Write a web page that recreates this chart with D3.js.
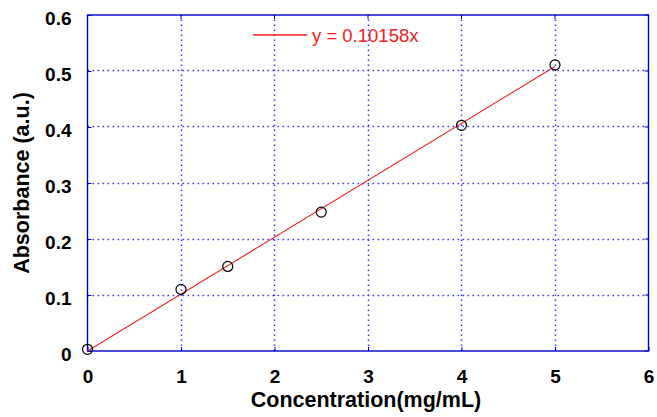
<!DOCTYPE html>
<html><head><meta charset="utf-8">
<script src="https://d3js.org/d3.v7.min.js"></script>
<style>body{margin:0;background:#fff}svg{display:block}</style>
</head><body>
<script>
const concentration = [0, 1, 1.5, 2.5, 4, 5];
const absorbance = [0.003, 0.110, 0.151, 0.248, 0.403, 0.511];
const slope = 0.10158;
const fitRange = [0, 5];
const xTicks = [0, 1, 2, 3, 4, 5, 6];
const yTicks = [0, 0.1, 0.2, 0.3, 0.4, 0.5, 0.6];
const legendLabel = "y = 0.10158x";

const W = 657, H = 417;
const m = {left: 87.5, right: 657 - 648.5, top: 15, bottom: 417 - 351};
const svg = d3.select("body").append("svg").attr("width", W).attr("height", H);
const x = d3.scaleLinear().domain([0, 6]).range([m.left, W - m.right]);
const y = d3.scaleLinear().domain([0, 0.6]).range([H - m.bottom, m.top]);
const blue = "#0000cc";
const gridBlue = "#3838ff";
const red = "#ee2222";
const font = "Liberation Sans, Arial, sans-serif";
const crisp = v => Math.floor(v) + 0.5;

// grid
const g = svg.append("g");
g.selectAll("line.gx").data(xTicks.slice(1, -1)).join("line").attr("class", "gx")
  .attr("x1", d => crisp(x(d))).attr("x2", d => crisp(x(d))).attr("y1", y(0)).attr("y2", y(0.6))
  .attr("stroke", gridBlue).attr("stroke-width", 1.5).attr("stroke-dasharray", "1.6,3.4");
g.selectAll("line.gy").data(yTicks.slice(1, -1)).join("line").attr("class", "gy")
  .attr("y1", d => crisp(y(d))).attr("y2", d => crisp(y(d))).attr("x1", x(0)).attr("x2", x(6))
  .attr("stroke", gridBlue).attr("stroke-width", 1.5).attr("stroke-dasharray", "1.6,3.4");

// axes
const xAxis = d3.axisBottom(x).tickValues(xTicks).tickSize(-4).tickPadding(19).tickFormat(d3.format("d"));
const yAxis = d3.axisLeft(y).tickValues(yTicks).tickSize(-4).tickPadding(16).tickFormat(d => d === 0 ? "0" : d3.format(".1f")(d));
const xa = svg.append("g").attr("transform", `translate(0,${y(0)})`).call(xAxis);
const ya = svg.append("g").attr("transform", `translate(${x(0)},0)`).call(yAxis);
[xa, ya].forEach(a => {
  a.select(".domain").remove();
  a.selectAll("line").attr("stroke", blue);
  a.selectAll("text").attr("font-family", font)
    .attr("font-size", 19).attr("font-weight", "bold").attr("fill", "#000");
});
ya.selectAll("text").attr("dy", "0.48em");
// top/right ticks
svg.append("g").selectAll("line").data(xTicks).join("line")
  .attr("x1", d => x(d)).attr("x2", d => x(d)).attr("y1", y(0.6)).attr("y2", y(0.6) + 4).attr("stroke", blue);
svg.append("g").selectAll("line").data(yTicks).join("line")
  .attr("y1", d => y(d)).attr("y2", d => y(d)).attr("x1", x(6)).attr("x2", x(6) - 4).attr("stroke", blue);
// frame
svg.append("rect").attr("x", x(0)).attr("y", y(0.6)).attr("width", x(6) - x(0)).attr("height", y(0) - y(0.6))
  .attr("fill", "none").attr("stroke", blue).attr("stroke-width", 1.4);

// fit line
svg.append("line").attr("x1", x(fitRange[0])).attr("y1", y(slope * fitRange[0]))
  .attr("x2", x(fitRange[1])).attr("y2", y(slope * fitRange[1]))
  .attr("stroke", red).attr("stroke-width", 1.1);

// points
svg.append("g").selectAll("circle").data(concentration).join("circle")
  .attr("cx", d => x(d)).attr("cy", (d, i) => y(absorbance[i])).attr("r", 5)
  .attr("fill", "none").attr("stroke", "#000").attr("stroke-width", 1.2);

// legend
svg.append("line").attr("x1", 253).attr("x2", 307).attr("y1", 35).attr("y2", 35)
  .attr("stroke", red).attr("stroke-width", 1.3);
svg.append("text").attr("x", 312).attr("y", 42).text(legendLabel)
  .attr("font-family", font).attr("font-size", 18.5).attr("fill", red);

// axis titles
svg.append("text").attr("x", 366).attr("y", 407).attr("text-anchor", "middle")
  .attr("font-family", font).attr("font-size", 21.5).attr("font-weight", "bold")
  .text("Concentration(mg/mL)");
svg.append("text").attr("transform", `translate(29,183) rotate(-90)`).attr("text-anchor", "middle")
  .attr("font-family", font).attr("font-size", 21.5).attr("font-weight", "bold")
  .text("Absorbance (a.u.)");
</script>
</body></html>
